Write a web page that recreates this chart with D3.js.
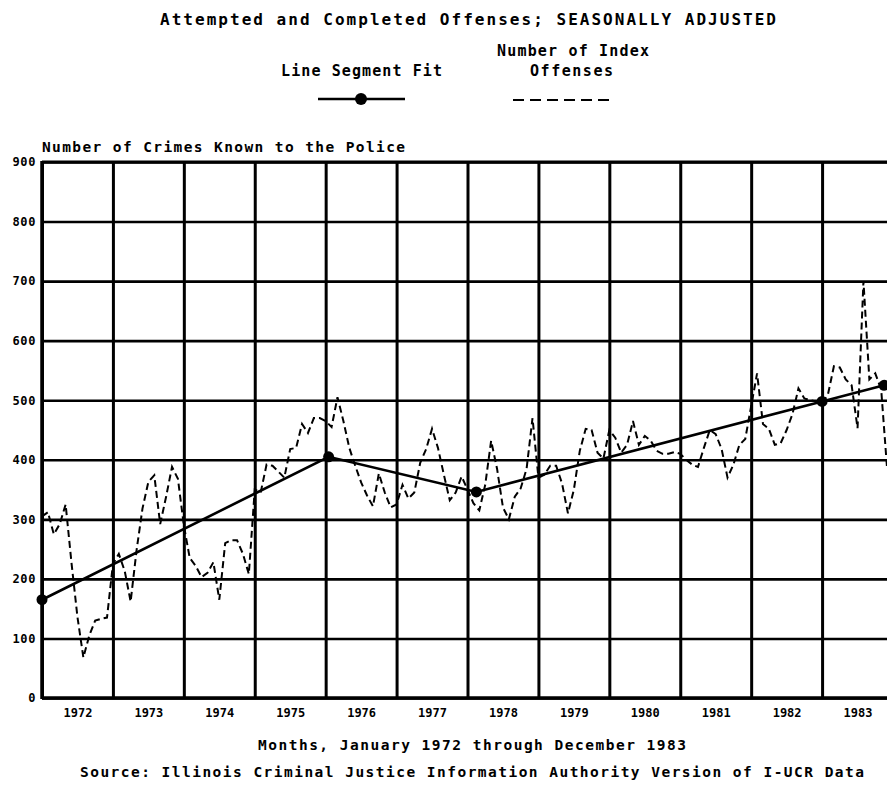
<!DOCTYPE html>
<html><head><meta charset="utf-8">
<script src="https://cdn.jsdelivr.net/npm/d3@7"></script>
<style>
html,body{margin:0;padding:0;background:#fff;}
svg{display:block;}
text{font-family:"DejaVu Sans Mono","Liberation Mono",monospace;fill:#000;}
</style></head><body>
<svg id="chart" width="887" height="785"></svg>
<script>
// ---- data ----
const yearLabels = ['1972','1973','1974','1975','1976','1977','1978','1979','1980','1981','1982','1983'];
const yTicks = [0,100,200,300,400,500,600,700,800,900];
// Number of Index Offenses, monthly Jan 1972 - Dec 1983
const indexOffenses = [
  305, 312, 275, 292, 325, 226, 136, 68, 105, 130, 133, 135,   // 1972
  225, 242, 213, 162, 248, 318, 363, 374, 292, 338, 388, 368,  // 1973
  290, 235, 222, 203, 210, 228, 165, 260, 265, 265, 242, 208,  // 1974
  350, 345, 392, 390, 380, 370, 418, 420, 460, 445, 470, 470,  // 1975
  465, 455, 505, 465, 420, 390, 362, 340, 322, 377, 345, 320,  // 1976
  325, 358, 335, 345, 395, 418, 452, 420, 375, 332, 345, 372,  // 1977
  350, 327, 315, 358, 432, 385, 320, 300, 338, 352, 385, 470,  // 1978
  370, 375, 390, 390, 360, 310, 350, 415, 452, 450, 412, 402,  // 1979
  450, 437, 412, 425, 465, 425, 440, 432, 415, 410, 410, 413,  // 1980
  410, 400, 392, 388, 420, 450, 443, 418, 370, 392, 425, 435,  // 1981
  490, 545, 460, 452, 425, 428, 450, 477, 520, 503, 500, 498,  // 1982
  495, 510, 557, 555, 535, 525, 453, 700, 535, 545, 518, 385   // 1983
];
// Line segment fit knots (month index from Jan 1972, value)
const fitMonths = [0, 48.5, 73.5, 132, 142.5];
const fitValues = [165, 405, 346, 498, 525];

// ---- layout ----
const W = 887, H = 785;
const mLeft = 42, mRight = 893, mTop = 162, mBottom = 698;
const nMonths = yearLabels.length * 12;
const x = d3.scaleLinear().domain([0, nMonths]).range([mLeft, mRight]);
const y = d3.scaleLinear().domain([0, 900]).range([mBottom, mTop]);

const svg = d3.select('#chart');
svg.append('rect').attr('width', W).attr('height', H).attr('fill', '#fff');

// horizontal grid + y labels
const gy = svg.append('g').attr('transform', `translate(${mLeft},0)`)
  .call(d3.axisLeft(y).tickValues(yTicks).tickSize(-(mRight - mLeft)).tickPadding(6).tickFormat(d3.format('d')));
gy.select('.domain').remove();
gy.selectAll('.tick line').attr('stroke', '#000').attr('stroke-width', 2.6);
gy.selectAll('.tick text').attr('font-size', 12).attr('font-weight', 'bold').attr('letter-spacing', 0.6);

// vertical grid (year boundaries)
const boundaries = yearLabels.map((d, i) => i * 12).concat([nMonths]);
const gx = svg.append('g').attr('transform', `translate(0,${mBottom})`)
  .call(d3.axisBottom(x).tickValues(boundaries).tickSize(-(mBottom - mTop)).tickFormat(''));
gx.select('.domain').remove();
gx.selectAll('.tick line').attr('stroke', '#000').attr('stroke-width', 3);

// year labels
const gl = svg.append('g').attr('transform', `translate(0,${mBottom})`)
  .call(d3.axisBottom(x).tickValues(yearLabels.map((d, i) => i * 12 + 6)).tickSize(0).tickPadding(10)
    .tickFormat((d, i) => yearLabels[i]));
gl.select('.domain').remove();
gl.selectAll('.tick text').attr('font-size', 12).attr('font-weight', 'bold');

// frame emphasis: left, bottom, top lines
svg.append('line').attr('x1', x(0)).attr('x2', x(0)).attr('y1', y(900) - 1).attr('y2', y(0) + 1)
  .attr('stroke', '#000').attr('stroke-width', 3.5);
svg.append('line').attr('x1', x(0)).attr('x2', mRight).attr('y1', y(0)).attr('y2', y(0))
  .attr('stroke', '#000').attr('stroke-width', 3.5);
svg.append('line').attr('x1', x(0)).attr('x2', mRight).attr('y1', y(900)).attr('y2', y(900))
  .attr('stroke', '#000').attr('stroke-width', 3.2);

// dashed series
const line = d3.line().x((d, i) => x(i)).y(d => y(d));
svg.append('path').datum(indexOffenses).attr('d', line)
  .attr('fill', 'none').attr('stroke', '#000').attr('stroke-width', 2)
  .attr('stroke-dasharray', '7,4');

// fit line
const fitData = fitMonths.map((m, i) => ({ m, v: fitValues[i] }));
svg.append('path').datum(fitData)
  .attr('d', d3.line().x(d => x(d.m)).y(d => y(d.v)))
  .attr('fill', 'none').attr('stroke', '#000').attr('stroke-width', 2.6);
svg.selectAll('circle.knot').data(fitData).join('circle').attr('class', 'knot')
  .attr('cx', d => x(d.m)).attr('cy', d => y(d.v)).attr('r', 5.5).attr('fill', '#000');

// texts
function txt(s, x0, yb, size, len) {
  return svg.append('text').attr('x', x0).attr('y', yb).attr('font-size', size)
    .attr('textLength', len).attr('lengthAdjust', 'spacing')
    .attr('font-weight', 'bold').text(s);
}
txt('Attempted and Completed Offenses; SEASONALLY ADJUSTED', 160, 25, 16, 616);
txt('Number of Index', 497, 56, 15, 152);
txt('Line Segment Fit', 281, 76, 15, 161);
txt('Offenses', 530, 76, 15, 83);
txt('Number of Crimes Known to the Police', 42, 152, 14.5, 363);
txt('Months, January 1972 through December 1983', 258, 750, 14.5, 428);
txt('Source: Illinois Criminal Justice Information Authority Version of I-UCR Data', 80, 777, 14.5, 784);

// legend marks
svg.append('line').attr('x1', 318).attr('x2', 405).attr('y1', 99).attr('y2', 99)
  .attr('stroke', '#000').attr('stroke-width', 2.6);
svg.append('circle').attr('cx', 361).attr('cy', 99).attr('r', 6).attr('fill', '#000');
svg.append('line').attr('x1', 513).attr('x2', 610).attr('y1', 100).attr('y2', 100)
  .attr('stroke', '#000').attr('stroke-width', 2).attr('stroke-dasharray', '11,6');
</script>
</body></html>
